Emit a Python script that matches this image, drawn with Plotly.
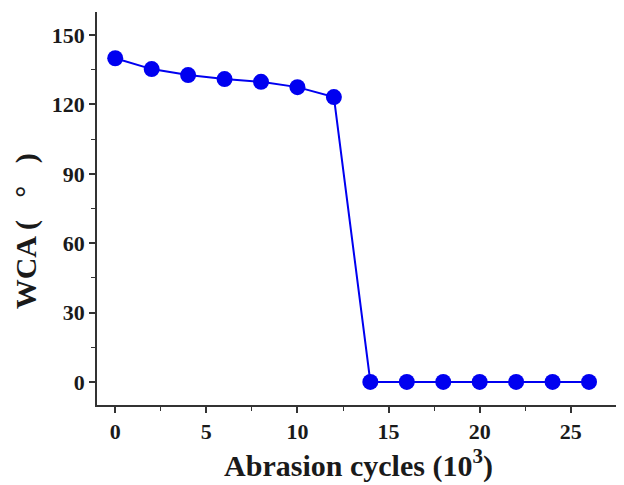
import plotly.graph_objects as go

cycles = [0, 2, 4, 6, 8, 10, 12, 14, 16, 18, 20, 22, 24, 26]
wca = [140, 135.3, 132.7, 131, 129.8, 127.5, 123.2, 0, 0, 0, 0, 0, 0, 0]

x_ticks = [0, 5, 10, 15, 20, 25]
y_ticks = [0, 30, 60, 90, 120, 150]

fig = go.Figure()
fig.add_trace(go.Scatter(
    x=cycles, y=wca, mode="lines+markers",
    line=dict(color="#0000f0", width=2),
    marker=dict(color="#0000f0", size=16),
    cliponaxis=False,
))

tickfont = dict(family="Liberation Serif", size=22, color="#1a1a1a", weight="bold")
titlefont = dict(family="Liberation Serif", size=30, color="#1a1a1a", weight="bold")
fig.update_layout(
    width=616, height=477,
    margin=dict(l=89, r=4, t=4, b=80),
    plot_bgcolor="white", paper_bgcolor="white",
    showlegend=False,
    annotations=[dict(
        text="WCA (   °   )", textangle=-90, showarrow=False,
        xref="paper", yref="paper", x=-0.135, y=0.443,
        xanchor="center", yanchor="middle", font=titlefont,
    )],
)
fig.update_xaxes(
    range=[-1, 27.7], tickvals=x_ticks, ticks="outside", ticklen=6, tickwidth=1.5,
    tickcolor="#333", showline=True, linecolor="#333", linewidth=1.5,
    showgrid=False, zeroline=False, automargin=False,
    tickfont=tickfont,
    minor=dict(dtick=2.5, tick0=0, ticks="outside", ticklen=4, tickcolor="#333", tickwidth=1.2),
    title=dict(text="Abrasion cycles (10<sup>3</sup>)", font=titlefont, standoff=2),
)
fig.update_yaxes(
    range=[-10, 160], tickvals=y_ticks, ticks="outside", ticklen=6, tickwidth=1.5,
    tickcolor="#333", showline=True, linecolor="#333", linewidth=1.5,
    showgrid=False, zeroline=False, automargin=False,
    tickfont=tickfont,
    minor=dict(dtick=15, tick0=0, ticks="outside", ticklen=4, tickcolor="#333", tickwidth=1.2),
)

fig.write_html("out.html")
